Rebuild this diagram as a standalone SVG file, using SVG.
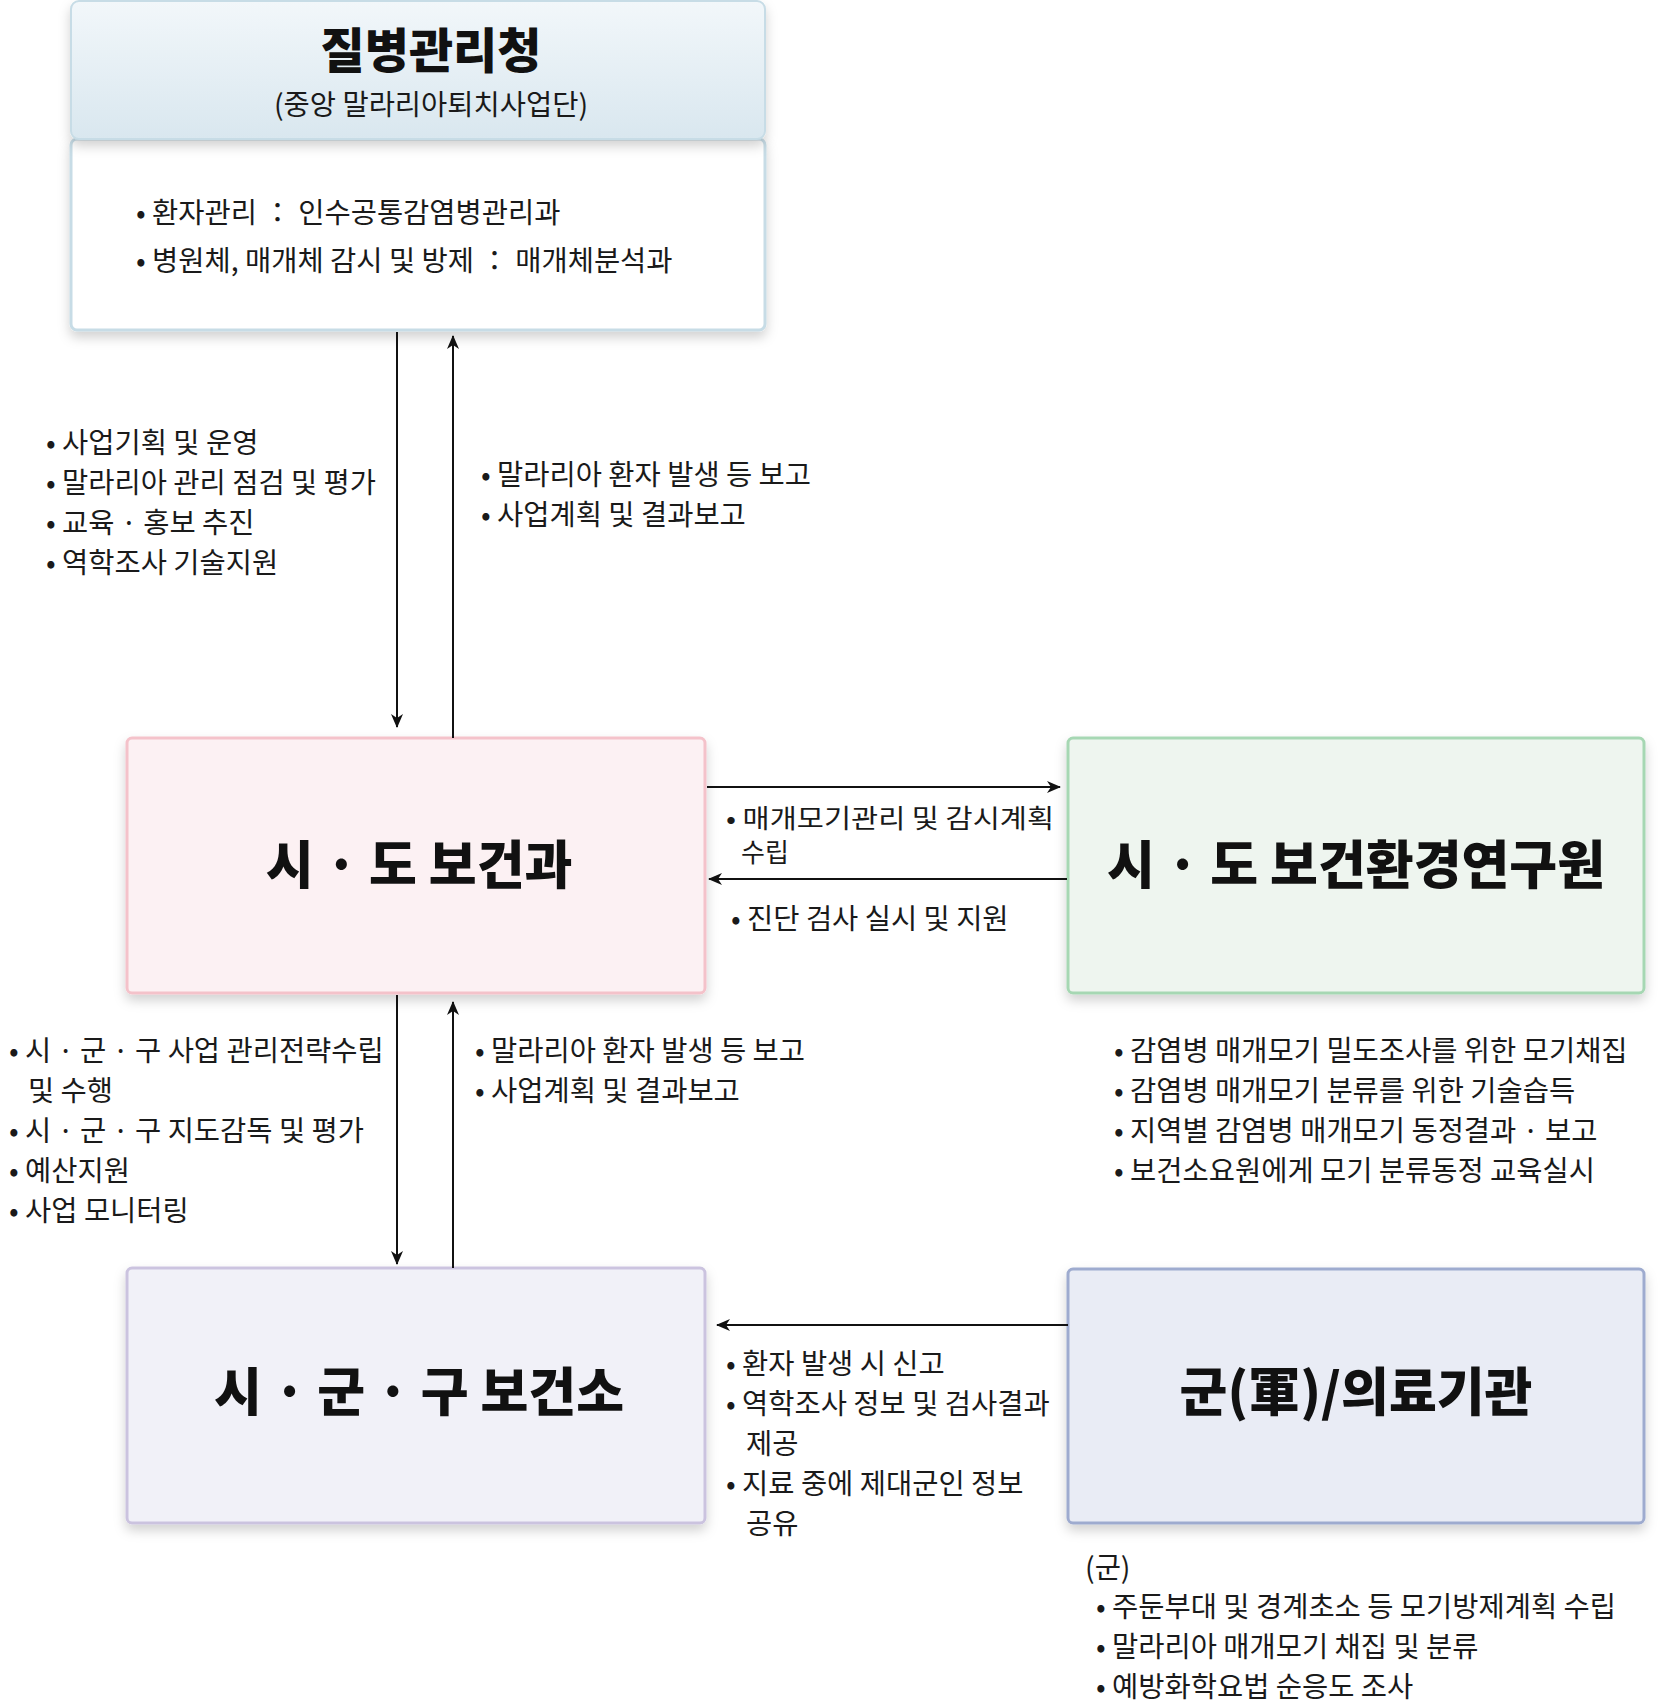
<svg xmlns="http://www.w3.org/2000/svg" width="1670" height="1704" viewBox="0 0 1670 1704">
<defs>
<style>
text{font-family:"Noto Sans CJK KR","Noto Sans",sans-serif;fill:#1a1a1a}
.t{font-size:28.5px}
.s{font-size:26px}
.h{font-size:52px;font-weight:900;text-anchor:middle;fill:#111}
.ln{stroke:#111;stroke-width:2;fill:none}
</style>
<filter id="sh" x="-10%" y="-10%" width="120%" height="125%"><feDropShadow dx="0" dy="6" stdDeviation="6" flood-color="#000" flood-opacity="0.18"/></filter>
<linearGradient id="hg" x1="0" y1="0" x2="0" y2="1"><stop offset="0" stop-color="#f2f7fa"/><stop offset="1" stop-color="#d9e7ef"/></linearGradient>
<marker id="ar" markerWidth="14" markerHeight="12" refX="13" refY="6" orient="auto" markerUnits="userSpaceOnUse"><path d="M0,0 L14,6 L0,12 L4,6 z" fill="#111"/></marker>
</defs>
<rect width="1670" height="1704" fill="#fff"/>

<g id="kdca">
<rect x="71" y="139" width="694" height="191" rx="6" fill="#fff" stroke="#c7dce6" stroke-width="3" filter="url(#sh)"/>
<rect x="71" y="1" width="694" height="138" rx="8" fill="url(#hg)" stroke="#c7dce6" stroke-width="2" filter="url(#sh)"/>
<text x="431" y="68" style="font-size:48px;font-weight:900;text-anchor:middle;fill:#111">질병관리청</text>
<text x="431" y="115" class="t" text-anchor="middle">(중앙 말라리아퇴치사업단)</text>
<text x="136" y="223" class="t">• 환자관리 ： 인수공통감염병관리과</text>
<text x="136" y="271" class="t">• 병원체, 매개체 감시 및 방제 ： 매개체분석과</text>
</g>

<g id="sido">
<rect x="127" y="738" width="578" height="255" rx="5" fill="#fcf1f3" stroke="#f4c2ca" stroke-width="3" filter="url(#sh)"/>
<text x="419" y="884" class="h">시 · 도 보건과</text>
</g>

<g id="lab">
<rect x="1068" y="738" width="576" height="255" rx="5" fill="#eef5ef" stroke="#a6d7b3" stroke-width="3" filter="url(#sh)"/>
<text x="1356" y="884" class="h">시 · 도 보건환경연구원</text>
</g>

<g id="sigungu">
<rect x="127" y="1268" width="578" height="255" rx="5" fill="#f1f1f8" stroke="#cbc3df" stroke-width="3" filter="url(#sh)"/>
<text x="419" y="1411" class="h">시 · 군 · 구 보건소</text>
</g>

<g id="military">
<rect x="1068" y="1269" width="576" height="254" rx="5" fill="#e9ecf5" stroke="#9eabcf" stroke-width="3" filter="url(#sh)"/>
<text x="1356" y="1411" class="h">군(軍)/의료기관</text>
</g>

<g id="connectors">
<line class="ln" x1="397" y1="332" x2="397" y2="727" marker-end="url(#ar)"/>
<line class="ln" x1="453" y1="738" x2="453" y2="336" marker-end="url(#ar)"/>
<line class="ln" x1="707" y1="787" x2="1060" y2="787" marker-end="url(#ar)"/>
<line class="ln" x1="1067" y1="879" x2="709" y2="879" marker-end="url(#ar)"/>
<line class="ln" x1="397" y1="995" x2="397" y2="1264" marker-end="url(#ar)"/>
<line class="ln" x1="453" y1="1268" x2="453" y2="1002" marker-end="url(#ar)"/>
<line class="ln" x1="1068" y1="1325" x2="717" y2="1325" marker-end="url(#ar)"/>
</g>

<g id="labels">
<text class="t" x="46" y="453">• 사업기획 및 운영</text>
<text class="t" x="46" y="493">• 말라리아 관리 점검 및 평가</text>
<text class="t" x="46" y="533">• 교육 · 홍보 추진</text>
<text class="t" x="46" y="573">• 역학조사 기술지원</text>
<text class="t" x="481" y="485">• 말라리아 환자 발생 등 보고</text>
<text class="t" x="481" y="525">• 사업계획 및 결과보고</text>
<text class="s" x="726" y="828" textLength="328" lengthAdjust="spacingAndGlyphs">• 매개모기관리 및 감시계획</text>
<text class="s" x="741" y="862">수립</text>
<text class="t" x="731" y="929">• 진단 검사 실시 및 지원</text>
<text class="t" x="9" y="1061">• 시 · 군 · 구 사업 관리전략수립</text>
<text class="t" x="28" y="1101">및 수행</text>
<text class="t" x="9" y="1141">• 시 · 군 · 구 지도감독 및 평가</text>
<text class="t" x="9" y="1181">• 예산지원</text>
<text class="t" x="9" y="1221">• 사업 모니터링</text>
<text class="t" x="475" y="1061">• 말라리아 환자 발생 등 보고</text>
<text class="t" x="475" y="1101">• 사업계획 및 결과보고</text>
<text class="t" x="1114" y="1061">• 감염병 매개모기 밀도조사를 위한 모기채집</text>
<text class="t" x="1114" y="1101">• 감염병 매개모기 분류를 위한 기술습득</text>
<text class="t" x="1114" y="1141">• 지역별 감염병 매개모기 동정결과 · 보고</text>
<text class="t" x="1114" y="1181">• 보건소요원에게 모기 분류동정 교육실시</text>
<text class="t" x="726" y="1374">• 환자 발생 시 신고</text>
<text class="t" x="726" y="1414">• 역학조사 정보 및 검사결과</text>
<text class="t" x="746" y="1454">제공</text>
<text class="t" x="726" y="1494">• 지료 중에 제대군인 정보</text>
<text class="t" x="746" y="1534">공유</text>
<text class="t" x="1085" y="1578">(군)</text>
<text class="t" x="1096" y="1617">• 주둔부대 및 경계초소 등 모기방제계획 수립</text>
<text class="t" x="1096" y="1657">• 말라리아 매개모기 채집 및 분류</text>
<text class="t" x="1096" y="1697">• 예방화학요법 순응도 조사</text>
</g>
</svg>
